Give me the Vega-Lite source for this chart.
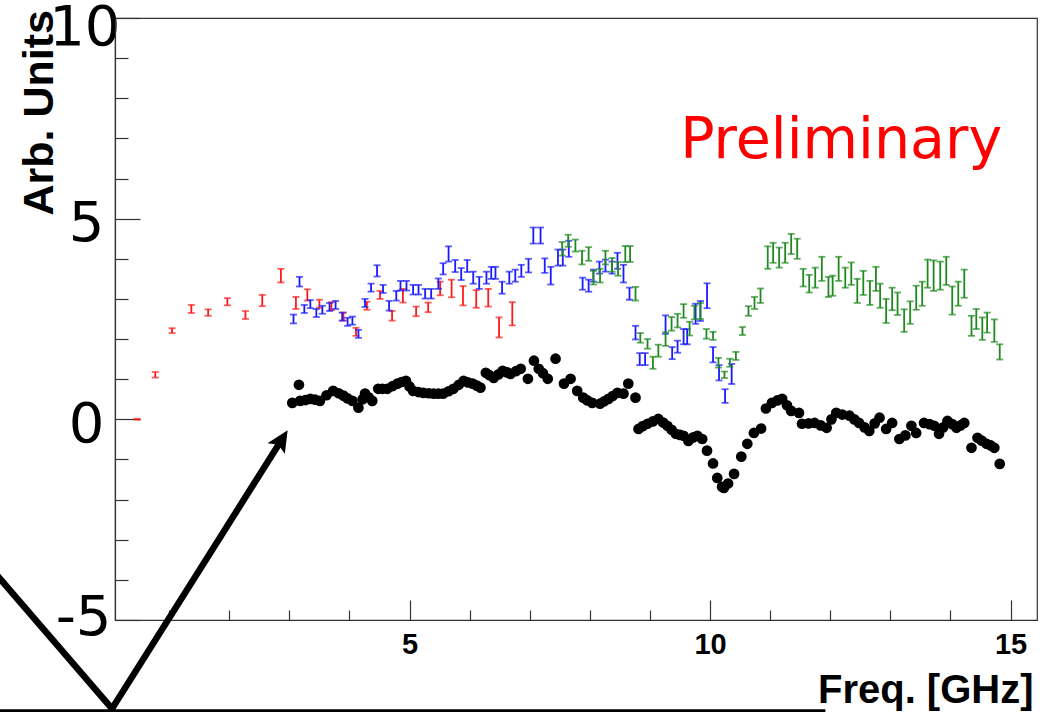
{
  "$schema": "https://vega.github.io/schema/vega-lite/v6.json",
  "width": 922,
  "height": 602,
  "autosize": {"type": "none"},
  "padding": {"left": 115, "top": 18, "right": 8, "bottom": 92},
  "background": "white",
  "config": {"view": {"stroke": "#333333", "strokeWidth": 1.2}},
  "datasets": {
    "red": [
      {"f": 0.47, "v": 0.0, "e": 0.01}, {"f": 0.77, "v": 1.11, "e": 0.07}, {"f": 1.05, "v": 2.21, "e": 0.06},
      {"f": 1.37, "v": 2.75, "e": 0.1}, {"f": 1.65, "v": 2.66, "e": 0.08}, {"f": 1.97, "v": 2.93, "e": 0.09},
      {"f": 2.27, "v": 2.6, "e": 0.1}, {"f": 2.55, "v": 2.96, "e": 0.14}, {"f": 2.86, "v": 3.58, "e": 0.17},
      {"f": 3.11, "v": 2.9, "e": 0.15}, {"f": 3.3, "v": 3.1, "e": 0.14}, {"f": 3.5, "v": 2.88, "e": 0.1},
      {"f": 3.7, "v": 2.82, "e": 0.1}, {"f": 3.9, "v": 2.56, "e": 0.1}, {"f": 4.11, "v": 2.18, "e": 0.1},
      {"f": 4.29, "v": 2.83, "e": 0.1}, {"f": 4.51, "v": 3.1, "e": 0.1}, {"f": 4.71, "v": 2.58, "e": 0.12},
      {"f": 4.89, "v": 3.08, "e": 0.17}, {"f": 5.11, "v": 2.69, "e": 0.12}, {"f": 5.31, "v": 2.79, "e": 0.12},
      {"f": 5.51, "v": 3.26, "e": 0.17}, {"f": 5.7, "v": 3.26, "e": 0.22}, {"f": 5.89, "v": 3.08, "e": 0.24},
      {"f": 6.11, "v": 3.0, "e": 0.22}, {"f": 6.31, "v": 3.03, "e": 0.22}, {"f": 6.49, "v": 2.29, "e": 0.25},
      {"f": 6.71, "v": 2.63, "e": 0.29}
    ],
    "blue": [
      {"f": 3.07, "v": 2.5, "e": 0.11}, {"f": 3.17, "v": 3.43, "e": 0.12}, {"f": 3.25, "v": 2.75, "e": 0.1},
      {"f": 3.35, "v": 2.87, "e": 0.1}, {"f": 3.45, "v": 2.65, "e": 0.1}, {"f": 3.55, "v": 2.73, "e": 0.1},
      {"f": 3.67, "v": 2.8, "e": 0.1}, {"f": 3.77, "v": 2.85, "e": 0.1}, {"f": 3.88, "v": 2.56, "e": 0.1},
      {"f": 3.97, "v": 2.43, "e": 0.1}, {"f": 4.05, "v": 2.46, "e": 0.1}, {"f": 4.15, "v": 2.13, "e": 0.1},
      {"f": 4.26, "v": 2.9, "e": 0.1}, {"f": 4.36, "v": 3.28, "e": 0.1}, {"f": 4.46, "v": 3.7, "e": 0.14},
      {"f": 4.56, "v": 3.25, "e": 0.1}, {"f": 4.66, "v": 2.83, "e": 0.12}, {"f": 4.78, "v": 3.08, "e": 0.12},
      {"f": 4.85, "v": 3.33, "e": 0.12}, {"f": 4.95, "v": 3.33, "e": 0.12}, {"f": 5.06, "v": 3.23, "e": 0.12},
      {"f": 5.15, "v": 3.23, "e": 0.12}, {"f": 5.26, "v": 3.13, "e": 0.12}, {"f": 5.36, "v": 3.13, "e": 0.12},
      {"f": 5.48, "v": 3.38, "e": 0.13}, {"f": 5.56, "v": 3.75, "e": 0.14}, {"f": 5.65, "v": 4.12, "e": 0.19},
      {"f": 5.76, "v": 3.82, "e": 0.15}, {"f": 5.86, "v": 3.62, "e": 0.15}, {"f": 5.96, "v": 3.82, "e": 0.15},
      {"f": 6.06, "v": 3.53, "e": 0.15}, {"f": 6.16, "v": 3.4, "e": 0.15}, {"f": 6.28, "v": 3.53, "e": 0.15},
      {"f": 6.36, "v": 3.65, "e": 0.15}, {"f": 6.43, "v": 3.65, "e": 0.15}, {"f": 6.54, "v": 3.28, "e": 0.15},
      {"f": 6.66, "v": 3.53, "e": 0.15}, {"f": 6.76, "v": 3.58, "e": 0.15}, {"f": 6.86, "v": 3.7, "e": 0.15},
      {"f": 6.98, "v": 3.83, "e": 0.17}, {"f": 7.06, "v": 4.58, "e": 0.2}, {"f": 7.18, "v": 4.58, "e": 0.2},
      {"f": 7.25, "v": 3.83, "e": 0.18}, {"f": 7.35, "v": 3.58, "e": 0.22}, {"f": 7.47, "v": 4.03, "e": 0.2},
      {"f": 7.55, "v": 4.03, "e": 0.2}, {"f": 7.65, "v": 4.25, "e": 0.2}, {"f": 7.88, "v": 3.38, "e": 0.15},
      {"f": 7.98, "v": 3.33, "e": 0.15}, {"f": 8.06, "v": 3.58, "e": 0.15}, {"f": 8.16, "v": 3.78, "e": 0.15},
      {"f": 8.26, "v": 3.83, "e": 0.15}, {"f": 8.37, "v": 3.78, "e": 0.15}, {"f": 8.46, "v": 3.95, "e": 0.2},
      {"f": 8.56, "v": 3.63, "e": 0.22}, {"f": 8.66, "v": 3.13, "e": 0.15}, {"f": 8.76, "v": 2.16, "e": 0.17},
      {"f": 8.83, "v": 1.5, "e": 0.15}, {"f": 8.92, "v": 1.5, "e": 0.15}, {"f": 9.26, "v": 2.36, "e": 0.23},
      {"f": 9.37, "v": 1.65, "e": 0.15}, {"f": 9.46, "v": 1.81, "e": 0.15}, {"f": 9.56, "v": 2.06, "e": 0.19},
      {"f": 9.62, "v": 2.06, "e": 0.19}, {"f": 9.76, "v": 2.63, "e": 0.25}, {"f": 9.84, "v": 2.7, "e": 0.25},
      {"f": 9.95, "v": 3.08, "e": 0.31}, {"f": 10.05, "v": 1.61, "e": 0.19}, {"f": 10.15, "v": 1.16, "e": 0.19},
      {"f": 10.25, "v": 0.58, "e": 0.17}, {"f": 10.36, "v": 1.13, "e": 0.25}
    ],
    "green": [
      {"f": 7.54, "v": 4.25, "e": 0.17}, {"f": 7.64, "v": 4.45, "e": 0.15}, {"f": 7.76, "v": 4.33, "e": 0.15},
      {"f": 7.87, "v": 4.03, "e": 0.17}, {"f": 7.98, "v": 4.12, "e": 0.17}, {"f": 8.06, "v": 3.53, "e": 0.17},
      {"f": 8.17, "v": 3.58, "e": 0.17}, {"f": 8.26, "v": 4.03, "e": 0.17}, {"f": 8.37, "v": 3.85, "e": 0.17},
      {"f": 8.47, "v": 3.75, "e": 0.17}, {"f": 8.59, "v": 4.12, "e": 0.2}, {"f": 8.67, "v": 4.12, "e": 0.2},
      {"f": 8.76, "v": 3.13, "e": 0.17}, {"f": 8.84, "v": 2.03, "e": 0.12}, {"f": 8.96, "v": 1.88, "e": 0.12},
      {"f": 9.05, "v": 1.41, "e": 0.15}, {"f": 9.14, "v": 1.71, "e": 0.15}, {"f": 9.26, "v": 2.0, "e": 0.17},
      {"f": 9.36, "v": 2.38, "e": 0.17}, {"f": 9.46, "v": 2.46, "e": 0.17}, {"f": 9.56, "v": 2.7, "e": 0.17},
      {"f": 9.66, "v": 2.26, "e": 0.17}, {"f": 9.74, "v": 2.66, "e": 0.17}, {"f": 9.84, "v": 2.7, "e": 0.2},
      {"f": 9.94, "v": 2.13, "e": 0.12}, {"f": 10.05, "v": 2.08, "e": 0.1}, {"f": 10.14, "v": 1.41, "e": 0.12},
      {"f": 10.24, "v": 1.11, "e": 0.08}, {"f": 10.33, "v": 1.41, "e": 0.1}, {"f": 10.43, "v": 1.58, "e": 0.1},
      {"f": 10.54, "v": 2.2, "e": 0.1}, {"f": 10.64, "v": 2.7, "e": 0.12}, {"f": 10.74, "v": 2.9, "e": 0.15},
      {"f": 10.84, "v": 3.08, "e": 0.18}, {"f": 10.96, "v": 4.03, "e": 0.28}, {"f": 11.05, "v": 4.15, "e": 0.25},
      {"f": 11.15, "v": 4.03, "e": 0.25}, {"f": 11.25, "v": 4.15, "e": 0.25}, {"f": 11.35, "v": 4.37, "e": 0.25},
      {"f": 11.45, "v": 4.25, "e": 0.25}, {"f": 11.55, "v": 3.53, "e": 0.22}, {"f": 11.65, "v": 3.38, "e": 0.22},
      {"f": 11.75, "v": 3.53, "e": 0.25}, {"f": 11.86, "v": 3.75, "e": 0.3}, {"f": 11.97, "v": 3.3, "e": 0.25},
      {"f": 12.04, "v": 3.33, "e": 0.25}, {"f": 12.14, "v": 3.75, "e": 0.3}, {"f": 12.25, "v": 3.53, "e": 0.25},
      {"f": 12.35, "v": 3.63, "e": 0.28}, {"f": 12.45, "v": 3.2, "e": 0.3}, {"f": 12.55, "v": 3.4, "e": 0.3},
      {"f": 12.66, "v": 3.15, "e": 0.3}, {"f": 12.76, "v": 3.5, "e": 0.3}, {"f": 12.83, "v": 3.08, "e": 0.3},
      {"f": 12.93, "v": 2.7, "e": 0.3}, {"f": 13.03, "v": 3.0, "e": 0.28}, {"f": 13.12, "v": 2.88, "e": 0.28},
      {"f": 13.23, "v": 2.46, "e": 0.28}, {"f": 13.33, "v": 2.66, "e": 0.28}, {"f": 13.43, "v": 3.03, "e": 0.3},
      {"f": 13.53, "v": 3.13, "e": 0.3}, {"f": 13.62, "v": 3.63, "e": 0.35}, {"f": 13.72, "v": 3.58, "e": 0.38},
      {"f": 13.83, "v": 3.58, "e": 0.35}, {"f": 13.93, "v": 3.7, "e": 0.35}, {"f": 14.03, "v": 2.96, "e": 0.35},
      {"f": 14.13, "v": 3.13, "e": 0.3}, {"f": 14.23, "v": 3.38, "e": 0.35}, {"f": 14.35, "v": 2.33, "e": 0.25},
      {"f": 14.43, "v": 2.5, "e": 0.25}, {"f": 14.53, "v": 2.26, "e": 0.28}, {"f": 14.61, "v": 2.41, "e": 0.25},
      {"f": 14.73, "v": 2.21, "e": 0.28}, {"f": 14.82, "v": 1.68, "e": 0.19}
    ],
    "black": [
      {"f": 3.05, "v": 0.41}, {"f": 3.16, "v": 0.86}, {"f": 3.18, "v": 0.46}, {"f": 3.27, "v": 0.48},
      {"f": 3.35, "v": 0.51}, {"f": 3.43, "v": 0.49}, {"f": 3.51, "v": 0.46}, {"f": 3.62, "v": 0.6},
      {"f": 3.73, "v": 0.71}, {"f": 3.82, "v": 0.65}, {"f": 3.9, "v": 0.59}, {"f": 3.97, "v": 0.52},
      {"f": 4.05, "v": 0.46}, {"f": 4.15, "v": 0.29}, {"f": 4.22, "v": 0.5}, {"f": 4.26, "v": 0.64},
      {"f": 4.32, "v": 0.55}, {"f": 4.38, "v": 0.46}, {"f": 4.48, "v": 0.76}, {"f": 4.55, "v": 0.76},
      {"f": 4.63, "v": 0.76}, {"f": 4.72, "v": 0.83}, {"f": 4.8, "v": 0.89}, {"f": 4.87, "v": 0.93},
      {"f": 4.94, "v": 0.96}, {"f": 5.0, "v": 0.82}, {"f": 5.06, "v": 0.71}, {"f": 5.15, "v": 0.68},
      {"f": 5.23, "v": 0.66}, {"f": 5.32, "v": 0.65}, {"f": 5.4, "v": 0.64}, {"f": 5.48, "v": 0.64},
      {"f": 5.56, "v": 0.64}, {"f": 5.65, "v": 0.7}, {"f": 5.73, "v": 0.76}, {"f": 5.82, "v": 0.86},
      {"f": 5.9, "v": 0.96}, {"f": 5.97, "v": 0.92}, {"f": 6.05, "v": 0.89}, {"f": 6.12, "v": 0.84},
      {"f": 6.18, "v": 0.79}, {"f": 6.27, "v": 1.16}, {"f": 6.33, "v": 1.1}, {"f": 6.4, "v": 1.03},
      {"f": 6.48, "v": 1.12}, {"f": 6.55, "v": 1.21}, {"f": 6.62, "v": 1.17}, {"f": 6.68, "v": 1.13},
      {"f": 6.77, "v": 1.2}, {"f": 6.85, "v": 1.26}, {"f": 6.97, "v": 1.01}, {"f": 7.07, "v": 1.46},
      {"f": 7.15, "v": 1.26}, {"f": 7.22, "v": 1.15}, {"f": 7.3, "v": 1.01}, {"f": 7.43, "v": 1.51},
      {"f": 7.57, "v": 0.89}, {"f": 7.68, "v": 1.01}, {"f": 7.79, "v": 0.71}, {"f": 7.89, "v": 0.54},
      {"f": 7.96, "v": 0.47}, {"f": 8.04, "v": 0.41}, {"f": 8.17, "v": 0.39}, {"f": 8.24, "v": 0.45},
      {"f": 8.31, "v": 0.51}, {"f": 8.38, "v": 0.58}, {"f": 8.46, "v": 0.66}, {"f": 8.56, "v": 0.64},
      {"f": 8.64, "v": 0.89}, {"f": 8.76, "v": 0.54},
      {"f": 8.81, "v": -0.24}, {"f": 8.88, "v": -0.17}, {"f": 8.96, "v": -0.11}, {"f": 9.05, "v": -0.05},
      {"f": 9.14, "v": 0.01}, {"f": 9.22, "v": -0.08}, {"f": 9.29, "v": -0.16}, {"f": 9.36, "v": -0.26},
      {"f": 9.43, "v": -0.36}, {"f": 9.5, "v": -0.39}, {"f": 9.56, "v": -0.41}, {"f": 9.64, "v": -0.54},
      {"f": 9.72, "v": -0.45}, {"f": 9.79, "v": -0.41}, {"f": 9.87, "v": -0.49}, {"f": 9.95, "v": -0.78},
      {"f": 10.05, "v": -1.1}, {"f": 10.12, "v": -1.46}, {"f": 10.2, "v": -1.68}, {"f": 10.23, "v": -1.71},
      {"f": 10.3, "v": -1.6}, {"f": 10.4, "v": -1.36}, {"f": 10.52, "v": -0.93}, {"f": 10.62, "v": -0.61},
      {"f": 10.73, "v": -0.34}, {"f": 10.85, "v": -0.23}, {"f": 10.93, "v": 0.27}, {"f": 11.03, "v": 0.41},
      {"f": 11.12, "v": 0.47}, {"f": 11.2, "v": 0.51}, {"f": 11.28, "v": 0.35}, {"f": 11.35, "v": 0.21},
      {"f": 11.48, "v": 0.16}, {"f": 11.53, "v": -0.11}, {"f": 11.64, "v": -0.1}, {"f": 11.74, "v": -0.09},
      {"f": 11.84, "v": -0.15}, {"f": 11.94, "v": -0.21}, {"f": 12.02, "v": 0.0}, {"f": 12.1, "v": 0.16},
      {"f": 12.2, "v": 0.12}, {"f": 12.32, "v": 0.09}, {"f": 12.4, "v": 0.0}, {"f": 12.48, "v": -0.09},
      {"f": 12.57, "v": -0.2}, {"f": 12.65, "v": -0.29}, {"f": 12.74, "v": -0.1}, {"f": 12.82, "v": 0.04},
      {"f": 12.93, "v": -0.24}, {"f": 13.03, "v": -0.09}, {"f": 13.15, "v": -0.49}, {"f": 13.25, "v": -0.4},
      {"f": 13.35, "v": -0.16}, {"f": 13.43, "v": -0.34}, {"f": 13.56, "v": -0.09}, {"f": 13.65, "v": -0.12},
      {"f": 13.73, "v": -0.16}, {"f": 13.81, "v": -0.36}, {"f": 13.88, "v": -0.2}, {"f": 13.95, "v": -0.04},
      {"f": 14.03, "v": -0.12}, {"f": 14.1, "v": -0.21}, {"f": 14.17, "v": -0.15}, {"f": 14.23, "v": -0.09},
      {"f": 14.35, "v": -0.71}, {"f": 14.45, "v": -0.46}, {"f": 14.52, "v": -0.53}, {"f": 14.6, "v": -0.61},
      {"f": 14.67, "v": -0.65}, {"f": 14.73, "v": -0.71}, {"f": 14.82, "v": -1.11}
    ],
    "vline": [
      {"f": -1.98, "v": -3.68, "o": 0}, {"f": 0.05, "v": -7.21, "o": 1}, {"f": 2.86, "v": -0.54, "o": 2}
    ],
    "hline": [
      {"f": -1.98, "v": -7.26, "o": 0}, {"f": 11.92, "v": -7.26, "o": 1}
    ],
    "head": [{"f": 2.86, "v": -0.54}],
    "label": [{"f": 14.86, "v": 6.52, "t": "Preliminary"}]
  },
  "encoding": {
    "x": {
      "field": "f", "type": "quantitative",
      "scale": {"domain": [0.1, 15.44], "nice": false, "zero": false},
      "axis": {
        "values": [1, 2, 3, 4, 5, 6, 7, 8, 9, 10, 11, 12, 13, 14, 15],
        "labelExpr": "datum.value % 5 === 0 ? datum.label : ''",
        "tickSize": {"condition": {"test": "datum.value % 5 === 0", "value": -20}, "value": -10},
        "grid": false, "labelFlush": false, "labelOverlap": false, "labelBound": false,
        "domainColor": "#333333", "tickColor": "#333333", "domainWidth": 1.2, "tickWidth": 1.2,
        "labelFont": "Liberation Sans", "labelFontWeight": "bold", "labelFontSize": 29, "labelColor": "black",
        "labelPadding": 30,
        "title": "Freq. [GHz]", "titleFont": "Liberation Sans", "titleFontWeight": "bold", "titleFontSize": 40,
        "titleColor": "black", "titleAlign": "right", "titleAnchor": "end", "titleBaseline": "alphabetic",
        "titleX": 918, "titleY": 82, "titleAngle": 0
      }
    },
    "y": {
      "field": "v", "type": "quantitative",
      "scale": {"domain": [-5, 10], "nice": false, "zero": false},
      "axis": {
        "values": [-5, -4, -3, -2, -1, 0, 1, 2, 3, 4, 5, 6, 7, 8, 9, 10],
        "labelExpr": "datum.value % 5 === 0 ? replace(datum.label, '\u2212', '-') : ''",
        "tickSize": {"condition": {"test": "datum.value % 5 === 0", "value": -25}, "value": -13},
        "grid": false, "labelFlush": false, "labelOverlap": false, "labelBound": false,
        "domainColor": "#333333", "tickColor": "#333333", "domainWidth": 1.2, "tickWidth": 1.2,
        "labelFont": "DejaVu Sans", "labelFontSize": 56, "labelColor": "black",
        "labelAlign": "right", "labelBaseline": "middle",
        "labelPadding": {"condition": [{"test": "datum.value === 10", "value": 20}, {"test": "datum.value === -5", "value": 29}], "value": 36},
        "labelOffset": {"condition": [{"test": "datum.value === 10", "value": 9}, {"test": "datum.value === -5", "value": -3}], "value": 5},
        "title": "Arb. Units", "titleFont": "Liberation Sans", "titleFontWeight": "bold", "titleFontSize": 43,
        "titleColor": "black", "titleAngle": 270, "titleAlign": "left", "titleBaseline": "alphabetic",
        "titleX": -63, "titleY": 197
      }
    }
  },
  "layer": [
    {
      "data": {"name": "red"},
      "mark": {"type": "errorbar", "color": "#ff1a1a", "thickness": 1.8, "ticks": {"size": 7, "thickness": 1.8}},
      "encoding": {"yError": {"field": "e"}}
    },
    {
      "data": {"name": "blue"},
      "mark": {"type": "errorbar", "color": "#1a1aff", "thickness": 1.8, "ticks": {"size": 7, "thickness": 1.8}},
      "encoding": {"yError": {"field": "e"}}
    },
    {
      "data": {"name": "green"},
      "mark": {"type": "errorbar", "color": "#1e8a1e", "thickness": 1.8, "ticks": {"size": 7, "thickness": 1.8}},
      "encoding": {"yError": {"field": "e"}}
    },
    {
      "data": {"name": "black"},
      "mark": {"type": "point", "filled": true, "shape": "circle", "size": 115, "color": "black", "opacity": 1}
    },
    {
      "data": {"name": "vline"},
      "mark": {"type": "line", "color": "black", "strokeWidth": 6.5, "strokeJoin": "miter", "clip": false},
      "encoding": {"order": {"field": "o", "type": "quantitative"}}
    },
    {
      "data": {"name": "hline"},
      "mark": {"type": "line", "color": "black", "strokeWidth": 3, "clip": false},
      "encoding": {"order": {"field": "o", "type": "quantitative"}}
    },
    {
      "data": {"name": "head"},
      "mark": {"type": "point", "filled": true, "shape": "M0,-1L0.8,0.7L0,0.35L-0.8,0.7Z", "size": 650, "angle": 32, "color": "black", "opacity": 1, "clip": false}
    },
    {
      "data": {"name": "label"},
      "mark": {"type": "text", "align": "right", "baseline": "alphabetic", "font": "DejaVu Sans", "fontSize": 57, "color": "#ff0000"},
      "encoding": {"text": {"field": "t"}}
    }
  ]
}
